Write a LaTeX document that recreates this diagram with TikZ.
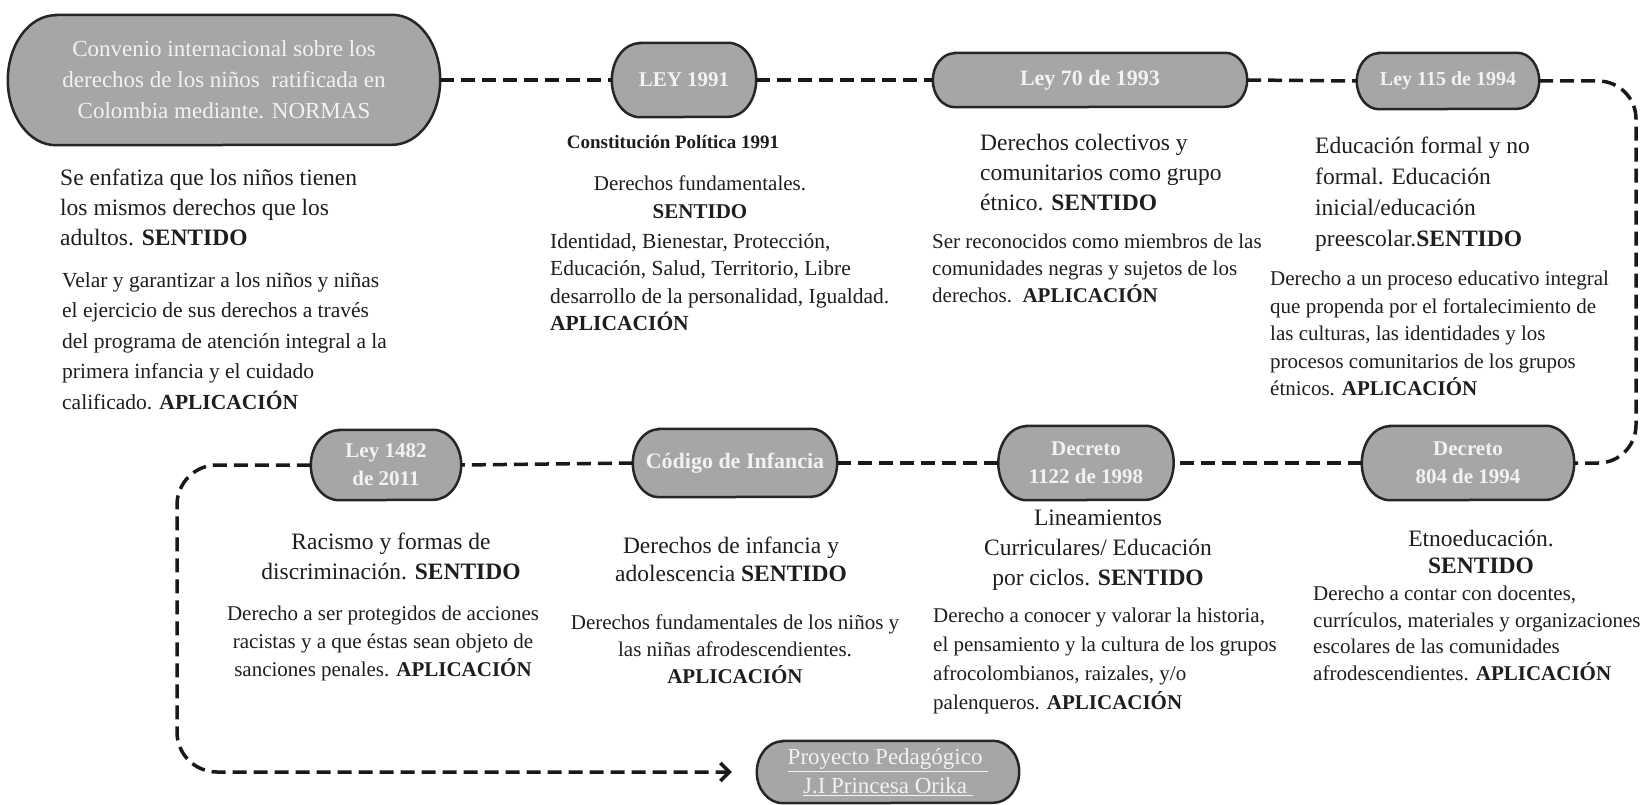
\documentclass[tikz,border=0pt]{standalone}
\usepackage{fontspec}
\setmainfont{Liberation Serif}
\usetikzlibrary{arrows.meta}
\definecolor{nodefill}{RGB}{166,166,166}
\definecolor{nodetext}{RGB}{242,242,242}
\definecolor{bodytext}{RGB}{30,30,30}
\pgfdeclarelayer{background}
\pgfsetlayers{background,main}
\newcommand\pill[3]{%
  \begin{pgfonlayer}{background}
  \path[pillshape] ([xshift=#2pt]#1.north west) -- ([xshift=-#2pt]#1.north east)
    arc[start angle=90, end angle=-90, x radius=#2pt, y radius=#3pt]
    -- ([xshift=#2pt]#1.south west)
    arc[start angle=270, end angle=90, x radius=#2pt, y radius=#3pt] -- cycle;
  \end{pgfonlayer}}
\begin{document}
\begin{tikzpicture}[x=1pt,y=-1pt,
  law/.style={rectangle, text=nodetext, align=center, inner sep=1pt,
    font=\bfseries\fontsize{21}{28}\selectfont},
  pillshape/.style={fill=nodefill, draw=black!85, line width=2.5pt},
  link/.style={draw=black!90, line width=3.5pt, dash pattern=on 14pt off 7pt},
  bl/.style={text=bodytext, inner sep=0pt, align=left, anchor=north west},
  bc/.style={text=bodytext, inner sep=0pt, align=center, anchor=north},
  big/.style={font=\fontsize{23.5}{30}\selectfont},
  small/.style={font=\fontsize{21}{27.5}\selectfont}]
\begin{pgfonlayer}{background}
\fill[white] (0,0) rectangle (1650,805);
\end{pgfonlayer}
\useasboundingbox (0,0) rectangle (1650,805);

% row 1 nodes
\node[law, minimum width=432pt, minimum height=130pt, font=\fontsize{23}{31}\selectfont] (conv) at (224,80)
  {Convenio internacional sobre los\\derechos de los niños\ \ ratificada en\\Colombia mediante. NORMAS};
\node[law, minimum width=144pt, minimum height=74pt] (l1991) at (684,80) {LEY 1991};
\node[law, minimum width=314pt, minimum height=54pt, font=\bfseries\fontsize{22}{28}\selectfont] (l70) at (1090,80) {Ley 70 de 1993};
\node[law, minimum width=182pt, minimum height=56pt, font=\bfseries\fontsize{20}{28}\selectfont] (l115) at (1448,81) {Ley 115 de 1994};

% row 2 nodes
\node[law, minimum width=212pt, minimum height=74pt] (d804) at (1468,463) {Decreto\\804 de 1994};
\node[law, minimum width=175pt, minimum height=74pt] (d1122) at (1086,463) {Decreto\\1122 de 1998};
\node[law, minimum width=204pt, minimum height=68pt, font=\bfseries\fontsize{22}{28}\selectfont] (cod) at (735,463) {Código de Infancia};
\node[law, minimum width=150pt, minimum height=70pt] (l1482) at (386,465) {Ley 1482\\de 2011};

% final node
\node[law, minimum width=262pt, minimum height=62pt, font=\fontsize{23}{29}\selectfont] (proj) at (888,772)
  {\underline{Proyecto Pedagógico\ }\\\underline{J.I Princesa Orika\ }};

\pill{conv}{48}{65}
\pill{l1991}{28}{37}
\pill{l70}{22}{27}
\pill{l115}{22}{28}
\pill{d804}{28}{37}
\pill{d1122}{28}{37}
\pill{cod}{26}{34}
\pill{l1482}{28}{35}
\pill{proj}{26}{31}

% connectors
\draw[link] (conv.east) -- (l1991.west);
\draw[link] (l1991.east) -- (l70.west);
\draw[link] (l70.east) -- (l115.west);
\coordinate (rc) at (1636,463);
\draw[link, rounded corners=38pt] (l115.east) -| (rc) -- (d804.east);
\draw[link] (d804.west) -- (d1122.east);
\draw[link] (d1122.west) -- (cod.east);
\draw[link] (cod.west) -- (l1482.east);
\coordinate (lc) at (177,772);
\coordinate (ae) at ([xshift=-25pt]proj.west);
\draw[link, rounded corners=40pt, -{Straight Barb[length=9pt,width=18pt]}] (l1482.west) -| (lc) -- (ae);

% texts
\node[bl, big] (a1) at (60,169) {Se enfatiza que los niños tienen\\los mismos derechos que los\\adultos. \textbf{SENTIDO}};
\node[bl, font=\fontsize{21.5}{30.5}\selectfont] (a2) at (62,272) {Velar y garantizar a los niños y niñas\\el ejercicio de sus derechos a través\\del programa de atención integral a la\\primera infancia y el cuidado\\calificado. \textbf{APLICACIÓN}};

\node[text=bodytext, inner sep=0pt, anchor=base, font=\bfseries\fontsize{19}{24}\selectfont] (b0) at (673,149) {Constitución Política 1991};
\node[bc, font=\fontsize{21}{28}\selectfont] (b1) at (700,176) {Derechos fundamentales.\\\textbf{SENTIDO}};
\node[bl, font=\fontsize{21.5}{27.5}\selectfont] (b2) at (550,233) {Identidad, Bienestar, Protección,\\Educación, Salud, Territorio, Libre\\desarrollo de la personalidad, Igualdad.\\\textbf{APLICACIÓN}};

\node[bl, big] (c1) at (980,134) {Derechos colectivos y\\comunitarios como grupo\\étnico. \textbf{SENTIDO}};
\node[bl, font=\fontsize{21}{27}\selectfont] (c2) at (932,234) {Ser reconocidos como miembros de las\\comunidades negras y sujetos de los\\derechos.\ \ \textbf{APLICACIÓN}};

\node[bl, font=\fontsize{23.5}{31}\selectfont] (d1) at (1315,137) {Educación formal y no\\formal. Educación\\inicial/educación\\preescolar.\textbf{SENTIDO}};
\node[bl, small] (d2) at (1270,271) {Derecho a un proceso educativo integral\\que propenda por el fortalecimiento de\\las culturas, las identidades y los\\procesos comunitarios de los grupos\\étnicos. \textbf{APLICACIÓN}};

\node[bc, big] (e1) at (391,533) {Racismo y formas de\\discriminación. \textbf{SENTIDO}};
\node[bc, font=\fontsize{21}{28}\selectfont] (e2) at (383,606) {Derecho a ser protegidos de acciones\\racistas y a que éstas sean objeto de\\sanciones penales. \textbf{APLICACIÓN}};

\node[bc, font=\fontsize{23.5}{28}\selectfont] (f1) at (731,537) {Derechos de infancia y\\adolescencia \textbf{SENTIDO}};
\node[bc, font=\fontsize{21}{27}\selectfont] (f2) at (735,615) {Derechos fundamentales de los niños y\\las niñas afrodescendientes.\\\textbf{APLICACIÓN}};

\node[bc, big] (g1) at (1098,510) {Lineamientos\\Curriculares/ Educación\\por ciclos. \textbf{SENTIDO}};
\node[bl, font=\fontsize{21}{29}\selectfont] (g2) at (933,608) {Derecho a conocer y valorar la historia,\\el pensamiento y la cultura de los grupos\\afrocolombianos, raizales, y/o\\palenqueros. \textbf{APLICACIÓN}};

\node[bc, font=\fontsize{23.5}{27}\selectfont] (h1) at (1481,530) {Etnoeducación.\\\textbf{SENTIDO}};
\node[bl, font=\fontsize{21}{26.5}\selectfont] (h2) at (1313,586) {Derecho a contar con docentes,\\currículos, materiales y organizaciones\\escolares de las comunidades\\afrodescendientes. \textbf{APLICACIÓN}};
\end{tikzpicture}
\end{document}
